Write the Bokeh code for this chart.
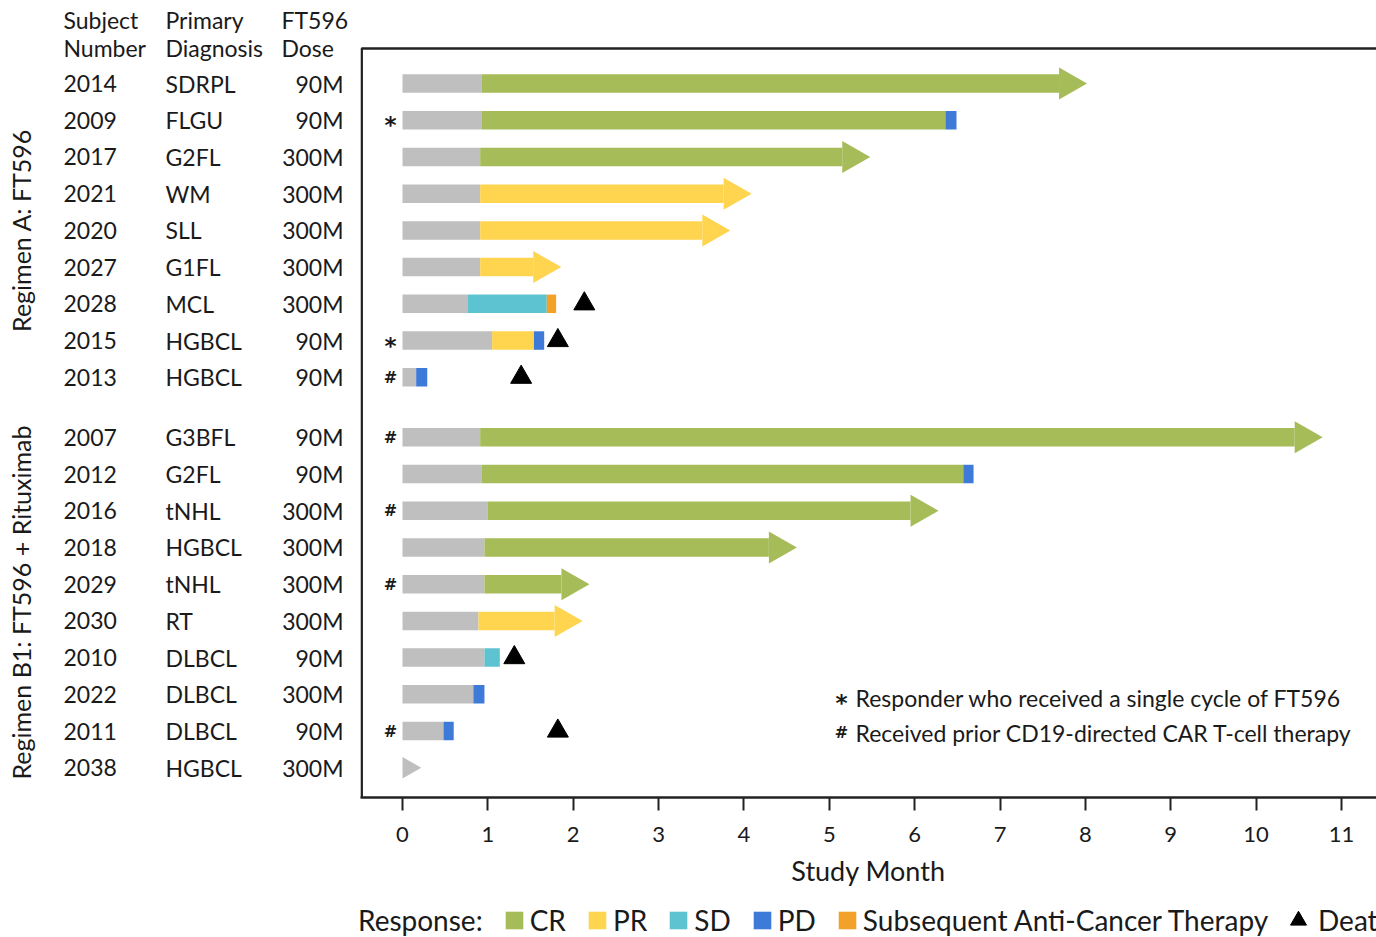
import numpy as np
from bokeh.plotting import figure
from bokeh.layouts import column, row
from bokeh.models import Range1d, FixedTicker, Legend, LegendItem
from bokeh.core.properties import value
from bokeh.embed import file_html
from bokeh.resources import INLINE

# ---------------- data ----------------
subject = ["2014", "2009", "2017", "2021", "2020", "2027", "2028", "2015", "2013",
           "2007", "2012", "2016", "2018", "2029", "2030", "2010", "2022", "2011", "2038"]
diagnosis = ["SDRPL", "FLGU", "G2FL", "WM", "SLL", "G1FL", "MCL", "HGBCL", "HGBCL",
             "G3BFL", "G2FL", "tNHL", "HGBCL", "tNHL", "RT", "DLBCL", "DLBCL", "DLBCL", "HGBCL"]
dose = ["90M", "90M", "300M", "300M", "300M", "300M", "300M", "90M", "90M",
        "90M", "90M", "300M", "300M", "300M", "300M", "90M", "300M", "90M", "300M"]
regimen = ["A"] * 9 + ["B1"] * 10
regimen_labels = {"A": "Regimen A: FT596", "B1": "Regimen B1: FT596 + Rituximab"}

# end of the grey (pre-assessment) segment, in months
pre_assess_end = [0.93, 0.93, 0.91, 0.91, 0.91, 0.91, 0.76, 1.05, 0.16,
                  0.91, 0.93, 1.00, 0.96, 0.96, 0.89, 0.96, 0.83, 0.48, 0.22]

# response segments (subject, response, end month), in order
seg_subject = ["2014", "2009", "2009", "2017", "2021", "2020", "2027", "2028", "2028",
               "2015", "2015", "2013", "2007", "2012", "2012", "2016", "2018", "2029",
               "2030", "2010", "2022", "2011"]
seg_response = ["CR", "CR", "PD", "CR", "PR", "PR", "PR", "SD", "SACT",
                "PR", "PD", "PD", "CR", "CR", "PD", "CR", "CR", "CR",
                "PR", "SD", "PD", "PD"]
seg_end = [8.02, 6.36, 6.49, 5.48, 4.09, 3.84, 1.86, 1.69, 1.80,
           1.54, 1.66, 0.29, 10.78, 6.57, 6.69, 6.28, 4.62, 2.19,
           2.11, 1.14, 0.96, 0.60]

ongoing = ["2014", "2017", "2021", "2020", "2027", "2007", "2016", "2018", "2029", "2030", "2038"]
death_subject = ["2028", "2015", "2013", "2010", "2011"]
death_month = [2.13, 1.82, 1.39, 1.31, 1.82]
single_cycle = ["2009", "2015"]   # *
prior_cart = ["2013", "2007", "2016", "2029", "2011"]   # #

response_names = ["CR", "PR", "SD", "PD", "SACT"]
response_labels = ["CR", "PR", "SD", "PD", "Subsequent Anti-Cancer Therapy"]
colors = {"GREY": "#BFBFBF", "CR": "#A6BC58", "PR": "#FFD44F", "SD": "#5EC3D0",
          "PD": "#3E7BD8", "SACT": "#F2A229"}
footnote_symbols = ["*", "#"]
footnote_texts = ["Responder who received a single cycle of FT596",
                  "Received prior CD19-directed CAR T-cell therapy"]

# ---------------- layout (canvas pixels) ----------------
W, FRAME_H, AXIS_H, LEG_FIG_H = 1376, 797, 103, 37
TABLE_W = 360     # width of the table column left of the plot frame
PX_PER_MONTH = 85.36
X0 = 402          # canvas x of month 0
PX_PER_ROW = 36.72
Y0 = 83           # canvas y of first row
GROUP_GAP = 0.635
FONT = "Lato"
SYM_FONT = "DejaVu Sans"
TXT = "#1a1a1a"
LINE = "#222222"


def rx(px):
    return (px - X0) / PX_PER_MONTH


def ry(py):
    return (py - Y0) / PX_PER_ROW


HEAD_LEN = 28 / PX_PER_MONTH
HEAD_H = 32 / PX_PER_ROW
BAR_H = 18.5 / PX_PER_ROW

row_y = [i + (GROUP_GAP if r == "B1" else 0.0) for i, r in enumerate(regimen)]
ypos = dict(zip(subject, row_y))

common = dict(output_backend="svg", toolbar_location=None, min_border=0,
              outline_line_color=None, background_fill_color="white",
              border_fill_color="white")

# ---------------- main swimmer plot ----------------
p = figure(frame_width=W - TABLE_W, frame_height=FRAME_H,
           x_range=Range1d(rx(TABLE_W), rx(W)), y_range=Range1d(ry(FRAME_H), ry(0)),
           min_border_bottom=AXIS_H, y_axis_location=None, **common)
p.grid.visible = False

bars = {k: dict(y=[], left=[], right=[]) for k in colors}
heads = {k: dict(xs=[], ys=[]) for k in colors}

for s, y, g_end in zip(subject, row_y, pre_assess_end):
    segs = [("GREY", 0.0, g_end)]
    start = g_end
    for ss, rr, ee in zip(seg_subject, seg_response, seg_end):
        if ss == s:
            segs.append((rr, start, ee))
            start = ee
    if s in ongoing:
        kind, a, b = segs[-1]
        hl = min(HEAD_LEN, b)
        hh = HEAD_H * (hl / HEAD_LEN)
        base = b - hl
        heads[kind]["xs"].append([base, base, b])
        heads[kind]["ys"].append([y - hh / 2, y + hh / 2, y])
        segs[-1] = (kind, a, max(a, base))
    for kind, a, b in segs:
        if b > a:
            bars[kind]["y"].append(y)
            bars[kind]["left"].append(a)
            bars[kind]["right"].append(b)

for k in colors:
    p.hbar(y=bars[k]["y"], left=bars[k]["left"], right=bars[k]["right"],
           height=BAR_H, fill_color=colors[k], line_color=None)
    if heads[k]["xs"]:
        p.patches(xs=heads[k]["xs"], ys=heads[k]["ys"], fill_color=colors[k], line_color=None)

p.scatter(x=death_month, y=[ypos[s] for s in death_subject], marker="triangle",
          size=21, fill_color="black", line_color="black")

# symbols left of bars
sym_x, sym_y, sym_t = [], [], []
for s in single_cycle:
    sym_x.append(rx(390)); sym_y.append(ypos[s]); sym_t.append("*")
for s in prior_cart:
    sym_x.append(rx(390)); sym_y.append(ypos[s]); sym_t.append("#")
p.text(x=sym_x, y=sym_y, text=sym_t, text_font=value(SYM_FONT), text_font_style="bold",
       text_font_size=[("23px" if t == "*" else "16px") for t in sym_t],
       text_align="center", text_baseline="middle", text_color=TXT,
       y_offset=[5 if t == "*" else 0 for t in sym_t])

# footnotes
p.text(x=[rx(841)] * 2, y=[ry(697), ry(732)], text=footnote_symbols,
       text_align="center", text_baseline="middle", text_font=value(SYM_FONT),
       text_font_style="bold", text_font_size=["23px", "16px"], text_color=TXT,
       y_offset=[5, 0])
p.text(x=[rx(855)] * 2, y=[ry(697), ry(732)], text=footnote_texts,
       text_align="left", text_baseline="middle", text_font=value(FONT),
       text_font_size=value("23px"), text_color=TXT)

# frame lines (left and top)
p.line(x=[rx(W) + 1, rx(TABLE_W + 1.2), rx(TABLE_W + 1.2)], y=[ry(48), ry(48), ry(FRAME_H)],
       line_color=LINE, line_width=2.5)

ax = p.xaxis[0]
ax.ticker = FixedTicker(ticks=list(range(12)))
ax.axis_line_width = 2.5
ax.axis_line_color = LINE
ax.major_tick_line_color = LINE
ax.major_tick_line_width = 2
ax.major_tick_out = 13
ax.major_tick_in = 0
ax.minor_tick_line_color = None
ax.major_label_text_font = FONT
ax.major_label_text_font_size = "22px"
ax.major_label_text_color = TXT
ax.major_label_standoff = 16
ax.axis_label = "Study Month"
ax.axis_label_text_font = FONT
ax.axis_label_text_font_size = "27px"
ax.axis_label_text_font_style = "normal"
ax.axis_label_text_color = TXT
ax.axis_label_standoff = 9

# ---------------- table on the left ----------------
t = figure(frame_width=TABLE_W, frame_height=FRAME_H + AXIS_H,
           x_range=Range1d(rx(0), rx(TABLE_W)), y_range=Range1d(ry(FRAME_H + AXIS_H), ry(0)),
           x_axis_location=None, y_axis_location=None, **common)
t.grid.visible = False
tkw = dict(text_font=value(FONT), text_font_size=value("23px"), text_baseline="middle",
           text_color=TXT)
t.text(x=rx(63), y=row_y, text=subject, text_align="left", **tkw)
t.text(x=rx(165), y=row_y, text=diagnosis, text_align="left", **tkw)
t.text(x=rx(343), y=row_y, text=dose, text_align="right", **tkw)

headers_top = ["Subject", "Primary", "FT596"]
headers_bot = ["Number", "Diagnosis", "Dose"]
hx = [rx(63), rx(165), rx(281)]
t.text(x=hx, y=[ry(19)] * 3, text=headers_top, text_align="left", **tkw)
t.text(x=hx, y=[ry(47)] * 3, text=headers_bot, text_align="left", **tkw)

groups = ["A", "B1"]
gy = [np.mean([y for y, r in zip(row_y, regimen) if r == g]) for g in groups]
t.text(x=[rx(20)] * 2, y=gy, text=[regimen_labels[g] for g in groups], angle=np.pi / 2,
       text_align="center", text_baseline="middle", text_font=value(FONT),
       text_font_size=value("25px"), text_color=TXT)

# ---------------- legend strip (own small figure, glyph keys only) ----------------
q = figure(frame_width=W, frame_height=LEG_FIG_H, x_range=Range1d(0, 1), y_range=Range1d(0, 1),
           x_axis_location=None, y_axis_location=None, **common)
q.grid.visible = False
key_blank = q.hbar(y=[-5], left=[-5], right=[-4], height=0.5, fill_color="white",
                   fill_alpha=0, line_color=None)
items = [LegendItem(label="Response:", renderers=[key_blank])]
for k, lab in zip(response_names, response_labels):
    key = q.hbar(y=[-5], left=[-5], right=[-4], height=0.5, fill_color=colors[k], line_color=None)
    items.append(LegendItem(label=lab, renderers=[key]))
leg_kw = dict(orientation="horizontal", padding=0, margin=0, border_line_color=None,
              background_fill_alpha=0, label_text_font=FONT, label_text_font_size="28px",
              label_text_color=TXT)
legend = Legend(items=items, location=(331, 0), glyph_width=22, glyph_height=22,
                label_standoff=5, spacing=20, **leg_kw)
q.add_layout(legend, "center")

key_death = q.scatter(x=[-5], y=[-5], marker="triangle", size=21, fill_color="black",
                      line_color="black")
legend_death = Legend(items=[LegendItem(label="Death", renderers=[key_death])],
                      location=(1278, -3), glyph_width=40, glyph_height=40,
                      label_standoff=-3, **leg_kw)
q.add_layout(legend_death, "center")

page = column(row(t, p, spacing=0), q, spacing=0)
open("out.html", "w").write(file_html(page, INLINE))
